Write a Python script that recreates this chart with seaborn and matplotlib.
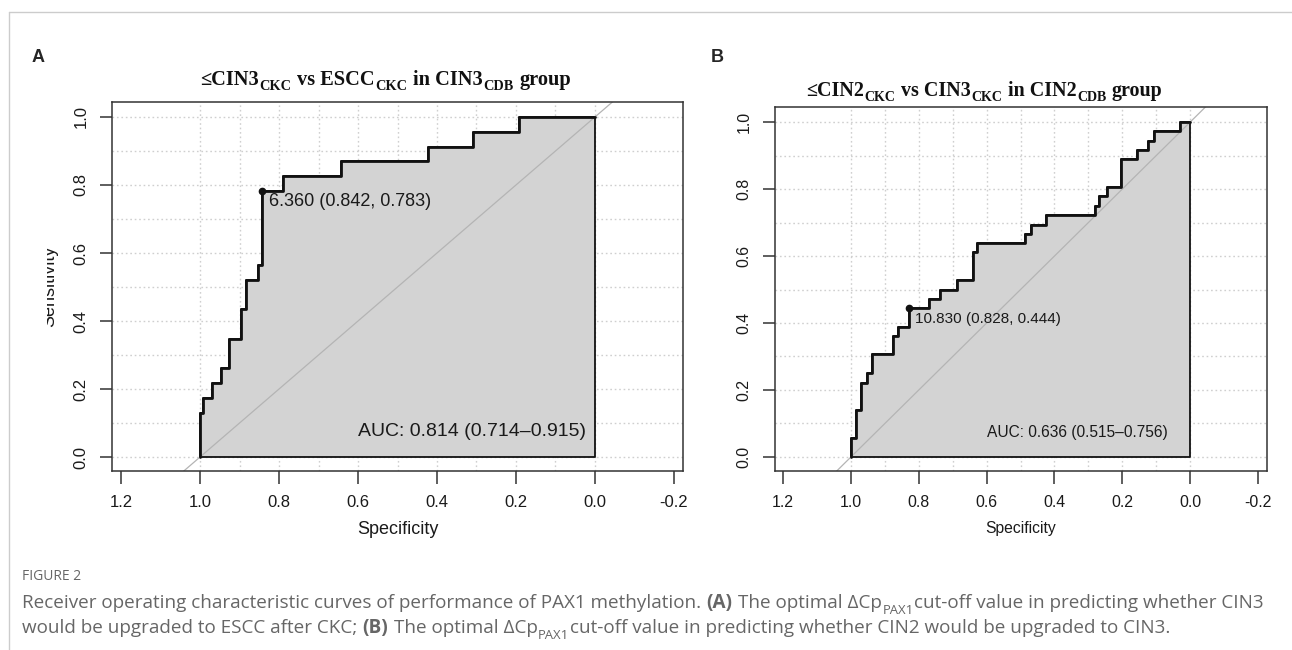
import numpy as np
import matplotlib
matplotlib.use("Agg")
import matplotlib.pyplot as plt
import seaborn as sns
from matplotlib.lines import Line2D
from matplotlib.transforms import Bbox

# ---- data ----
# panel A : <=CIN3 vs ESCC in CIN3 (CDB) group
spec_a = [1.0, 1.0, 0.992, 0.970, 0.948, 0.926, 0.895, 0.884, 0.854, 0.842,
          0.790, 0.643, 0.424, 0.308, 0.192, 0.0]
sens_a = [0.0, 0.130, 0.174, 0.217, 0.261, 0.348, 0.435, 0.522, 0.565, 0.783,
          0.826, 0.870, 0.913, 0.957, 1.0, 1.0]
best_a = (0.842, 0.783)
best_txt_a = "6.360 (0.842, 0.783)"
auc_txt_a = "AUC: 0.814 (0.714\u20130.915)"

# panel B : <=CIN2 vs CIN3 in CIN2 (CDB) group
spec_b = [1.0, 1.0, 0.986, 0.970, 0.954, 0.939, 0.875, 0.860, 0.829, 0.769,
          0.737, 0.688, 0.639, 0.627, 0.486, 0.469, 0.424, 0.282, 0.268, 0.245,
          0.203, 0.157, 0.123, 0.108, 0.031, 0.0]
sens_b = [0.0, 0.056, 0.139, 0.222, 0.250, 0.306, 0.361, 0.389, 0.444, 0.472,
          0.500, 0.528, 0.611, 0.639, 0.667, 0.694, 0.722, 0.750, 0.778, 0.806,
          0.889, 0.917, 0.944, 0.972, 1.0, 1.0]
best_b = (0.828, 0.444)
best_txt_b = "10.830 (0.828, 0.444)"
auc_txt_b = "AUC: 0.636 (0.515\u20130.756)"

x_ticks = [1.2, 1.0, 0.8, 0.6, 0.4, 0.2, 0.0, -0.2]
y_ticks = [0.0, 0.2, 0.4, 0.6, 0.8, 1.0]

# titles / caption as (text, kind) pieces: n normal, s subscript, b bold, gap = space
title_a = [("\u2264CIN3", 'n'), ("CKC", 's'), ("", 'gap'), ("vs ESCC", 'n'), ("CKC", 's'),
           ("", 'gap'), ("in CIN3", 'n'), ("CDB", 's'), ("", 'gap'), ("group", 'n')]
title_b = [("\u2264CIN2", 'n'), ("CKC", 's'), ("", 'gap'), ("vs CIN3", 'n'), ("CKC", 's'),
           ("", 'gap'), ("in CIN2", 'n'), ("CDB", 's'), ("", 'gap'), ("group", 'n')]
line1 = [("Receiver operating characteristic curves of performance of PAX1 methylation.", 'n'),
         ("", 'gap'), ("(A)", 'b'), ("", 'gap'), ("The optimal \u0394Cp", 'n'), ("PAX1", 's'),
         ("cut-off value in predicting whether CIN3", 'n')]
line2 = [("would be upgraded to ESCC after CKC;", 'n'), ("", 'gap'), ("(B)", 'b'), ("", 'gap'),
         ("The optimal \u0394Cp", 'n'), ("PAX1", 's'),
         ("cut-off value in predicting whether CIN2 would be upgraded to CIN3.", 'n')]

sns.set_style("white")
plt.rcParams['font.family'] = ['Liberation Sans', 'DejaVu Sans']

W, H = 1292, 650
fig = plt.figure(figsize=(W / 100, H / 100), dpi=100)
renderer = fig.canvas.get_renderer()


def fx(x):
    return x / W


def fy(y):
    return 1 - y / H


def rich_text(pieces, x, y, size, family, color, weight='normal', sub_drop=0.3):
    # lay pieces out left to right in pixel coords, returns artists and end x
    arts = []
    px = size * 100 / 72
    for txt, kind in pieces:
        if kind == 'gap':
            x += 0.26 * px
            continue
        kw = dict(fontsize=size, color=color, family=family, va='baseline',
                  ha='left', fontweight=weight)
        yy = y
        if kind == 'b':
            kw['fontweight'] = 'bold'
        if kind == 's':
            kw['fontsize'] = size * 0.7
            yy = y + sub_drop * px
        t = fig.text(fx(x), fy(yy), txt, **kw)
        arts.append(t)
        x = t.get_window_extent(renderer=renderer).x1 + 0.5
    return arts, x


def fitted_text(pieces, x0, x1, y, size0, family, color, weight='normal', sub_drop=0.3):
    arts, end = rich_text(pieces, 0, y, size0, family, color, weight, sub_drop)
    for a in arts:
        a.remove()
    size = size0 * (x1 - x0) / end
    rich_text(pieces, x0, y, size, family, color, weight, sub_drop)


def roc_panel(rect, spec, sens, best, best_txt, auc_txt, xlim, ylim, fs):
    ax = fig.add_axes(rect)
    ax.set_xlim(*xlim)
    ax.set_ylim(*ylim)
    # dotted grid 0..1 by 0.1
    for g in np.arange(0, 1.01, 0.1):
        ax.axvline(g, color='#cfcfcf', lw=1, ls=(0, (1.2, 2)), zorder=0)
        ax.axhline(g, color='#cfcfcf', lw=1, ls=(0, (1.2, 2)), zorder=0)
    ax.fill_between(spec, sens, 0, step='post', facecolor='#d3d3d3',
                    edgecolor='#111111', linewidth=1.3, zorder=1)
    ax.plot([1.4, -0.4], [-0.4, 1.4], color='#b4b4b4', lw=0.9, zorder=2)
    sns.lineplot(x=spec, y=sens, sort=False, estimator=None, drawstyle='steps-post',
                 color='#111111', lw=2.0, ax=ax, zorder=3)
    ax.plot(*best, 'o', color='#111111', ms=4.5, zorder=4)
    ax.text(best[0] - 0.017, best[1] - 0.033, best_txt, fontsize=fs['ann'],
            color='#1a1a1a', va='center', ha='left', zorder=5)
    ax.text(0.6, 0.074, auc_txt, fontsize=fs['auc'], color='#1a1a1a',
            va='center', ha='left', zorder=5)
    ax.set_xticks(x_ticks)
    ax.set_xticklabels([f"{v:.1f}" for v in x_ticks])
    ax.set_yticks(y_ticks)
    ax.set_yticklabels([f"{v:.1f}" for v in y_ticks])
    ax.tick_params(direction='out', length=9, width=1.1, color='#333333',
                   labelsize=fs['tick'], pad=8, labelcolor='#1a1a1a',
                   bottom=True, left=True)
    for lab in ax.get_yticklabels():
        lab.set_rotation(90)
        lab.set_va('center')
    for s in ax.spines.values():
        s.set_color('#333333')
        s.set_linewidth(1.1)
        s.set_visible(True)
    ax.set_xlabel("Specificity", fontsize=fs['lab'], color='#1a1a1a', labelpad=8)
    ax.set_ylabel("")
    return ax


ax_a = roc_panel([fx(112), fy(471), fx(683) - fx(112), fy(102) - fy(471)],
                 spec_a, sens_a, best_a, best_txt_a, auc_txt_a,
                 (1.2228, -0.2228), (-0.041, 1.044),
                 dict(ann=13, auc=14, tick=12, lab=13))
ax_b = roc_panel([fx(775), fy(471), fx(1267) - fx(775), fy(107) - fy(471)],
                 spec_b, sens_b, best_b, best_txt_b, auc_txt_b,
                 (1.224, -0.2265), (-0.042, 1.045),
                 dict(ann=11, auc=11.2, tick=11.4, lab=11.3))

# clipped "Sensitivity" label on panel A, as in the source image
ylab = fig.text(fx(50), fy(286), "Sensitivity", rotation=90, fontsize=13,
                color='#1a1a1a', ha='center', va='center')
ylab.set_clip_box(Bbox([[47, 0], [W, H]]))
ylab.set_clip_on(True)

# titles and panel letters
serif = ['Liberation Serif', 'DejaVu Serif']
fitted_text(title_a, 200, 570, 85, 16, serif, '#111111', weight='bold', sub_drop=0.25)
fitted_text(title_b, 806, 1164, 96, 16, serif, '#111111', weight='bold', sub_drop=0.25)
fig.text(fx(38), fy(57), "A", fontsize=13, fontweight='bold', ha='center', va='center')
fig.text(fx(717), fy(57), "B", fontsize=13, fontweight='bold', ha='center', va='center')

# frame of the figure box
fig.add_artist(Line2D([fx(9), 1], [fy(12), fy(12)], color='#cccccc', lw=1))
fig.add_artist(Line2D([fx(9), fx(9)], [fy(12), 0], color='#cccccc', lw=1))

# caption
cap_col = '#666666'
sans = ['Open Sans', 'DejaVu Sans']
fig.text(fx(22), fy(580), "FIGURE 2", fontsize=10, color=cap_col, family=sans, va='baseline')
arts, end = rich_text(line1, 0, 608, 12, sans, cap_col)
for a in arts:
    a.remove()
cap_size = 12 * (1255 - 22) / end
rich_text(line1, 22, 608, cap_size, sans, cap_col)
rich_text(line2, 22, 633, cap_size, sans, cap_col)

fig.savefig("out.png", dpi=100)
